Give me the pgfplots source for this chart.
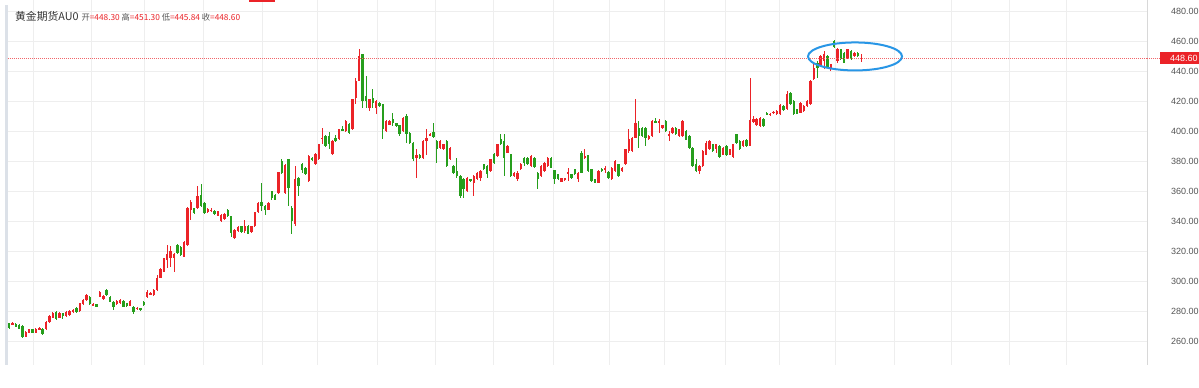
\documentclass[border=0pt]{standalone}
\usepackage{fontspec}
\setmainfont{Liberation Sans}
\newfontfamily\cjk{Noto Sans CJK SC}
\usepackage{pgfplots}
\usepackage{pgfplotstable}
\pgfplotsset{compat=1.18}
\definecolor{upred}{RGB}{235,35,40}
\definecolor{dngreen}{RGB}{38,158,28}
\definecolor{gridc}{RGB}{238,238,238}
\definecolor{ellblue}{RGB}{40,150,230}
\definecolor{tickc}{RGB}{85,85,85}
\definecolor{titlec}{RGB}{50,50,50}
\definecolor{borderc}{RGB}{220,225,232}

% up candles (close >= open): index open high low close
\pgfplotstableread{
i o h l c
1 271.3 272.4 271.0 272.0
5 262.9 266.4 262.5 266.0
6 265.6 268.2 265.2 267.8
8 265.6 268.8 265.2 268.3
9 267.4 269.5 267.0 268.9
11 268.3 273.2 267.2 272.7
12 272.7 277.3 272.3 276.7
13 275.6 279.4 275.2 278.5
15 275.4 279.6 275.0 279.0
17 276.7 279.9 276.3 279.4
18 277.4 280.5 277.0 280.0
19 279.0 281.2 278.6 280.7
21 280.0 285.6 279.6 285.1
22 284.5 287.9 284.0 287.4
23 287.4 291.2 287.0 290.5
25 283.8 285.0 283.4 284.5
27 289.6 293.4 289.2 292.9
28 288.0 290.6 287.6 290.2
32 284.5 287.2 284.0 286.7
33 285.1 287.8 284.7 287.3
36 283.5 287.2 283.0 286.7
38 281.3 282.7 280.9 282.2
41 289.5 294.0 288.9 292.9
42 291.1 292.4 290.7 291.8
43 290.7 294.5 290.3 294.0
44 294.0 304.0 293.6 302.2
45 302.2 308.5 301.8 308.0
46 306.2 315.6 305.8 315.1
47 314.0 324.0 308.5 317.8
48 315.0 323.5 309.5 320.0
49 315.1 318.5 306.2 317.8
52 316.2 326.7 315.8 326.2
53 324.0 349.0 323.5 348.4
54 347.3 354.0 340.7 352.9
56 348.6 363.1 348.0 356.8
59 345.8 348.5 345.3 348.0
60 346.7 348.5 345.8 347.5
62 343.5 346.9 343.0 346.4
63 339.7 344.8 339.2 344.1
64 341.3 345.3 340.8 344.8
67 328.6 334.7 327.9 334.2
68 333.1 336.6 332.6 336.1
70 333.1 340.8 332.0 336.4
72 332.4 336.9 331.9 336.4
73 336.4 346.2 336.0 345.7
74 345.7 352.5 345.3 352.0
77 347.5 352.5 347.0 352.0
80 358.6 372.9 358.0 372.4
82 358.6 378.0 358.0 377.5
85 337.7 376.6 336.5 367.7
89 366.6 383.7 366.0 383.2
91 377.7 385.0 377.2 384.4
92 381.0 391.5 380.5 391.0
93 394.5 402.1 391.0 395.6
96 384.4 393.8 383.9 393.3
98 394.4 401.5 393.9 401.0
100 399.9 407.5 399.4 406.6
102 401.0 421.5 400.5 421.0
103 422.1 435.5 417.7 433.3
104 433.3 454.4 433.0 449.9
107 415.5 421.5 413.3 421.0
109 415.5 420.4 411.1 419.9
112 399.9 407.2 399.4 406.6
113 404.3 407.1 403.8 406.6
117 399.9 409.3 399.4 408.8
121 382.1 387.7 368.8 384.3
123 382.1 393.7 381.6 393.2
124 393.2 401.0 384.3 395.4
125 397.2 398.5 396.7 398.0
128 388.8 393.7 388.3 393.2
129 388.1 391.5 387.6 391.0
131 381.2 389.3 380.7 388.8
136 359.9 369.3 359.4 368.8
138 365.4 370.8 356.6 370.3
139 367.7 372.6 367.2 372.1
140 368.8 373.8 366.6 373.3
143 373.3 381.6 372.8 381.1
145 383.3 391.6 382.8 391.1
148 385.5 390.5 385.0 390.0
150 370.0 372.7 369.5 372.2
151 368.0 373.3 366.6 372.0
152 374.4 378.7 373.9 378.2
155 376.6 383.8 376.1 383.3
158 370.0 377.1 369.5 376.6
159 373.3 379.3 372.8 378.8
160 376.6 382.7 376.1 382.2
164 366.2 368.9 365.7 368.4
165 367.1 368.9 366.6 368.4
166 371.1 375.5 366.6 372.8
169 367.7 372.7 366.0 372.2
171 382.1 387.7 381.0 383.3
175 365.5 373.8 365.0 373.3
177 374.4 376.6 372.2 375.5
179 367.7 376.0 367.2 375.5
180 373.3 380.4 372.8 379.9
182 373.3 376.0 372.8 375.5
183 377.7 388.2 377.2 387.7
184 386.6 401.0 385.5 394.4
185 386.6 396.0 386.1 395.5
186 395.5 421.0 395.0 405.5
190 394.4 397.1 393.9 396.6
191 396.6 407.1 396.1 406.6
193 405.5 407.7 398.8 406.6
194 402.1 404.2 401.6 403.7
196 396.6 399.9 393.2 398.3
197 398.8 402.6 398.3 402.1
199 396.6 401.5 396.1 401.0
200 396.6 407.1 396.1 406.6
205 373.2 377.1 371.0 376.6
206 376.6 387.1 376.1 386.6
207 384.3 393.2 383.8 392.1
208 387.7 393.7 387.2 393.2
210 387.7 391.5 385.5 391.0
212 384.3 389.3 383.8 388.8
214 384.3 388.2 383.8 387.7
215 382.8 391.5 382.3 391.0
218 389.9 393.7 389.4 393.2
220 390.3 435.4 389.8 407.2
221 405.9 410.1 405.0 408.1
222 403.7 408.6 403.2 408.1
223 403.2 409.3 402.7 408.8
226 410.5 412.0 410.0 411.5
227 412.0 413.3 411.5 412.8
228 411.1 413.8 410.6 413.3
229 411.1 417.7 410.6 417.3
231 414.4 426.6 413.9 424.4
235 412.2 419.3 411.7 418.8
236 413.3 417.1 412.8 416.6
237 416.6 420.5 416.1 420.0
238 417.7 433.8 417.2 433.3
239 434.4 445.5 434.0 442.2
241 443.3 450.5 442.8 450.0
242 446.6 453.3 441.1 451.1
244 442.2 444.9 440.0 444.4
246 446.6 455.5 445.5 454.4
249 448.8 454.9 448.3 454.4
251 450.0 452.7 449.5 452.2
253 448.3 451.3 445.84 448.6
}\upcandles

% down candles (close < open): index open high low close
\pgfplotstableread{
i o h l c
0 271.8 272.2 268.3 268.9
2 271.4 271.8 269.2 269.6
3 270.5 271.0 267.8 268.3
4 270.0 270.4 262.3 262.9
7 267.8 268.3 265.2 265.6
10 268.3 268.8 264.0 264.5
14 279.4 280.0 274.0 274.5
16 278.5 279.0 274.5 276.7
20 282.3 282.8 279.0 279.4
24 289.6 290.2 284.0 284.5
26 284.5 285.0 282.4 282.9
29 294.0 294.7 290.2 290.7
30 289.5 290.0 285.8 286.2
31 286.2 286.7 280.7 282.9
34 286.7 287.2 282.4 282.9
35 285.1 285.6 283.0 283.5
37 282.9 283.4 277.9 279.1
39 281.8 282.2 280.3 280.7
40 285.8 286.7 283.6 284.0
50 324.0 324.5 318.0 318.4
51 322.9 323.4 316.8 317.3
55 348.4 348.9 344.6 345.1
57 357.5 364.6 349.0 349.7
58 352.0 352.6 344.8 345.3
61 346.8 347.3 344.3 344.8
65 347.5 348.0 342.5 343.0
66 343.0 343.5 329.3 331.9
69 336.4 336.9 331.9 332.4
71 336.8 337.3 331.0 331.5
75 352.6 365.3 346.4 349.7
76 350.2 350.7 344.2 347.1
78 359.7 360.2 354.2 355.3
79 357.5 358.0 353.7 354.2
81 379.7 381.3 371.5 372.0
83 381.0 381.3 349.7 362.0
84 348.8 350.0 331.0 339.9
86 368.8 369.5 356.6 363.3
87 377.7 378.5 372.0 373.7
88 375.5 376.0 370.5 371.0
90 382.1 382.6 379.9 380.4
94 396.6 397.1 389.5 390.0
95 396.6 399.5 387.7 391.0
97 395.5 397.0 392.8 393.3
99 401.0 403.0 399.9 400.4
101 404.4 405.0 398.0 398.8
105 451.0 451.5 415.5 419.9
106 423.2 436.6 415.5 419.9
108 422.1 427.7 415.5 418.8
110 418.8 419.3 416.0 416.6
111 417.7 418.2 394.4 401.0
114 407.7 412.1 403.2 405.0
115 405.0 405.5 402.7 403.2
116 403.7 404.2 396.9 397.7
118 409.9 411.0 392.1 397.7
119 398.8 399.3 391.6 392.1
120 392.1 392.6 379.9 381.0
122 384.3 384.8 381.6 382.1
126 399.2 405.4 395.6 396.1
127 393.2 393.7 378.8 387.7
130 393.2 393.7 376.1 376.6
132 376.6 377.1 371.6 372.1
133 373.2 382.1 368.8 369.9
134 369.9 370.4 355.0 356.6
135 367.7 368.8 355.4 361.0
137 367.7 368.2 366.1 366.6
141 377.7 378.2 373.9 374.4
142 376.6 377.1 368.8 371.1
144 384.4 385.5 378.3 378.8
146 394.4 397.7 390.6 391.1
147 393.3 397.7 370.0 382.2
149 384.4 384.9 369.5 370.0
153 382.2 382.7 376.6 378.8
154 382.2 382.7 377.2 377.7
156 382.2 382.7 375.5 376.0
157 372.2 372.7 361.1 367.7
161 382.2 382.7 375.0 375.5
162 373.7 374.2 364.8 367.7
163 371.1 371.6 367.2 367.7
167 371.1 371.6 367.9 368.4
168 374.4 374.9 370.5 371.0
170 385.5 386.6 371.7 372.2
172 383.7 384.2 372.8 373.3
173 374.4 374.9 366.1 366.6
174 367.7 368.2 365.0 365.5
176 374.8 375.3 372.8 373.3
178 372.6 373.1 368.3 368.8
181 377.7 378.2 369.4 369.9
187 402.1 406.6 388.8 396.6
188 402.1 402.6 396.1 396.6
189 402.1 402.6 389.9 395.5
192 406.6 408.8 405.0 405.5
195 406.6 407.1 399.4 399.9
198 402.1 402.6 397.2 397.7
201 400.3 400.8 393.8 394.3
202 396.6 397.1 388.3 388.8
203 388.8 389.3 376.1 376.6
204 377.7 381.4 372.7 373.2
209 391.0 391.5 386.1 386.6
211 389.9 390.4 382.3 382.8
213 390.3 390.8 383.2 383.7
216 397.7 398.2 391.6 392.1
217 393.2 393.7 387.2 387.7
219 394.3 394.8 389.4 389.9
224 408.1 408.6 402.7 403.2
225 412.2 412.7 410.6 411.1
230 416.6 417.1 413.2 413.7
232 425.5 426.0 417.2 417.7
233 420.0 420.5 410.6 411.1
234 414.4 414.9 411.0 411.5
240 445.5 446.6 435.5 442.2
243 450.0 450.5 441.7 442.2
245 459.9 460.4 455.4 455.9
247 454.4 454.9 447.2 447.7
248 452.2 452.7 445.0 445.5
250 453.3 453.8 447.2 447.7
252 452.2 452.7 449.5 450.0
}\downcandles

\begin{document}
\begin{tikzpicture}[x=1pt,y=1pt]
\useasboundingbox (0,0) rectangle (1199,388);
\fill[white] (0,0) rectangle (1199,388);
\begin{axis}[
  at={(8pt,23pt)}, anchor=south west,
  scale only axis, width=1139pt, height=365pt,
  xmin=-0.297, xmax=337.9, ymin=244, ymax=487.333,
  axis line style={draw=none},
  xtick={7.13,24.35,40.09,57.61,75.13,91.46,109.28,126.50,143.72,161.54,178.17,194.50,212.61,228.65,245.28,262.80,279.72,296.94,313.87},
  xticklabels={},
  ytick={260,280,300,320,340,360,380,400,420,440,460,480},
  yticklabels={},
  xtick style={draw=none}, ytick style={draw=none},
  xmajorgrids, ymajorgrids,
  major grid style={draw=gridc, line width=0.8pt},
]
% wicks
\addplot[draw=none, no markers, error bars/.cd, y dir=both, y explicit, error mark=none,
  error bar style={draw=upred, line width=0.9pt}]
  table[x=i, y expr={(\thisrow{h}+\thisrow{l})/2}, y error expr={(\thisrow{h}-\thisrow{l})/2}] {\upcandles};
\addplot[draw=none, no markers, error bars/.cd, y dir=both, y explicit, error mark=none,
  error bar style={draw=dngreen, line width=0.9pt}]
  table[x=i, y expr={(\thisrow{h}+\thisrow{l})/2}, y error expr={(\thisrow{h}-\thisrow{l})/2}] {\downcandles};
% bodies
\addplot[draw=none, no markers, error bars/.cd, y dir=both, y explicit, error mark=none,
  error bar style={draw=upred, line width=2.4pt}]
  table[x=i, y expr={(\thisrow{o}+\thisrow{c})/2}, y error expr={abs(\thisrow{c}-\thisrow{o})/2}] {\upcandles};
\addplot[draw=none, no markers, error bars/.cd, y dir=both, y explicit, error mark=none,
  error bar style={draw=dngreen, line width=2.4pt}]
  table[x=i, y expr={(\thisrow{o}+\thisrow{c})/2}, y error expr={abs(\thisrow{c}-\thisrow{o})/2}] {\downcandles};
% last price line
\draw[upred!70, dash pattern=on 1pt off 1pt, line width=0.6pt] (axis cs:-0.297,448.6) -- (axis cs:337.9,448.6);
% highlight ellipse
\draw[ellblue, line width=2pt] (axis cs:251.2,449.7) ellipse [x radius=47pt, y radius=14pt];
\end{axis}
% price scale area
\fill[white] (1147.4,0) rectangle (1199,388);
\draw[gridc!80!gray, line width=0.8pt] (1147,23) -- (1147,388);
\begin{scope}[every node/.style={anchor=west, inner sep=0pt, text=tickc, font=\fontsize{9}{10}\selectfont}]
\node at (1171,47) {260.00};
\node at (1171,77) {280.00};
\node at (1171,107) {300.00};
\node at (1171,137) {320.00};
\node at (1171,167) {340.00};
\node at (1171,197) {360.00};
\node at (1171,227) {380.00};
\node at (1171,257) {400.00};
\node at (1171,287) {420.00};
\node at (1171,317) {440.00};
\node at (1171,347) {460.00};
\node at (1171,377) {480.00};
\end{scope}
\draw[upred!70, dash pattern=on 1pt off 1pt, line width=0.6pt] (1147,329.9) -- (1161,329.9);
\node[fill=upred, text=white, anchor=west, inner xsep=10pt, inner ysep=0pt, minimum height=12.5pt,
  font=\fontsize{9}{10}\selectfont] at (1160,329.9) {448.60};
\draw[borderc, line width=2.5pt] (6.5,23) -- (6.5,383);
\fill[upred] (249,386) rectangle (275,388);
\node[anchor=west, inner sep=0pt] at (15,371.5) {\cjk\fontsize{10.8}{12}\selectfont\color{titlec}黄金期货AU0\hspace{3pt}\fontsize{8.3}{10}\selectfont\color{tickc}开\textcolor{upred}{=448.30} 高\textcolor{upred}{=451.30} 低\textcolor{upred}{=445.84} 收\textcolor{upred}{=448.60}};
\end{tikzpicture}
\end{document}
